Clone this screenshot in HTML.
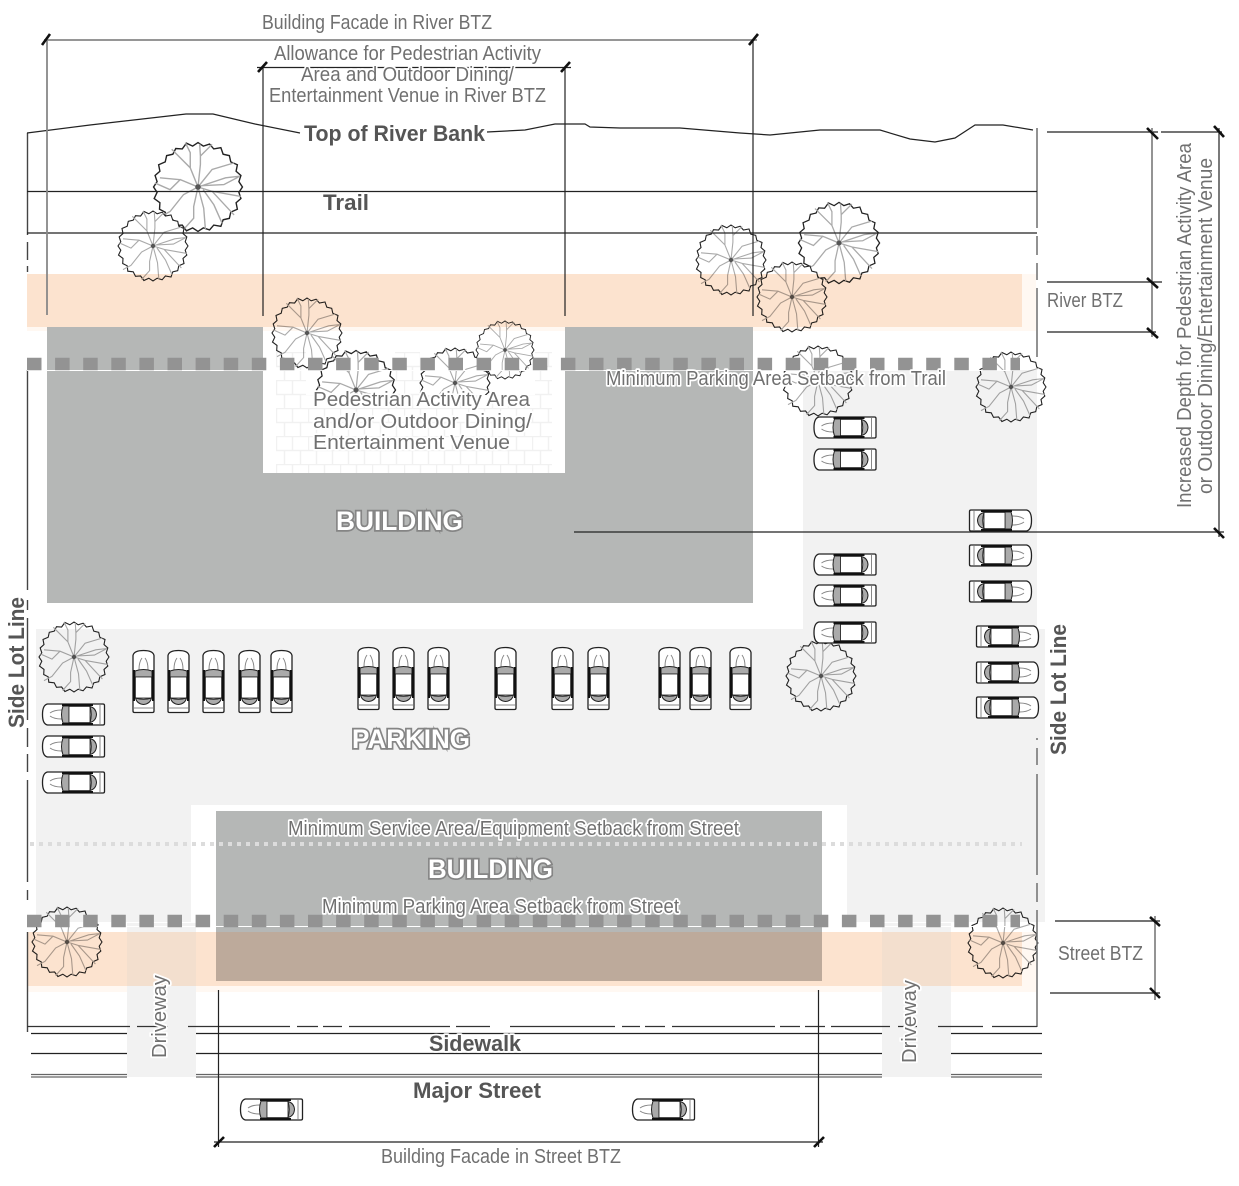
<!DOCTYPE html>
<html>
<head>
<meta charset="utf-8">
<title>River and Street BTZ Diagram</title>
<style>
html,body{margin:0;padding:0;background:#fff;}
svg{display:block;}
text{font-family:"Liberation Sans",sans-serif;}
.l{font-size:20px;fill:#707070;}
.h{paint-order:stroke;stroke:#fff;stroke-width:3.5px;stroke-linejoin:round;}
.b{font-size:22px;font-weight:bold;fill:#555;}
.big{font-size:27px;font-weight:bold;fill:#fff;stroke:#858585;stroke-width:3.5px;paint-order:stroke;stroke-linejoin:miter;stroke-miterlimit:10;}
.k{stroke:#222;stroke-width:1.2;fill:none;}
.g{stroke:#888;stroke-width:1.8;fill:none;}
.t{stroke:#111;stroke-width:2.6;fill:none;}
.m{mix-blend-mode:multiply;}
</style>
</head>
<body>
<svg xmlns="http://www.w3.org/2000/svg" width="1239" height="1186" viewBox="0 0 1239 1186">
<defs>
<g id="tree">
<polygon fill="#fff" stroke="#222" stroke-width="1.1" points="35,0 32.2,4.2 33.8,9.1 30,12.4 31,17.5 25.8,19.8 24.7,24.7 19.8,25.8 18,31 12.4,30 9.1,33.8 4.2,32.2 0,35 -4.2,32.2 -9.1,34.5 -12.4,30 -17.5,30.3 -19.8,25.8 -25.2,25.2 -25.8,19.8 -30.3,17.5 -30,12.4 -34.5,9.1 -32.2,4.2 -35,0 -32.2,-4.2 -33.8,-9.1 -30,-12.4 -31,-17.5 -25.8,-19.8 -24.7,-24.7 -19.8,-25.8 -17.5,-30.3 -12.4,-30 -9.1,-34.5 -4.2,-32.2 0,-35 4.2,-32.2 9.1,-33.8 12.4,-30 18,-31 19.8,-25.8 24.7,-24.7 25.8,-19.8 31,-17.5 30,-12.4 33.8,-9.1 32.2,-4.2"/>
<path d="M0,0 L1.9,-17.8 L1.9,-24.4 L11.1,-33.6 M1.9,-24.4 L1.3,-34 M0,0 L-6.1,-15.1 L-20.7,-29.7 M-6.1,-15.1 L-6.1,-27 L-10,-35 M0,0 L11.1,-13.8 L28.4,-19 M0,0 L21.7,-7.2 L33,-8.5 M3,-1 L20.4,-1.9 L32,-8 M0,0 L11.1,3.4 L28.4,22 M11.1,3.4 L33.7,7.4 M4,2 L12.5,14 L19,28.6 M0,0 L4.5,16.7 L5.8,33 M0,0 L-3.4,15.4 L-3.4,24.6 L-11.4,33.5 M0,0 L-11.4,6 L-22,19.3 L-30,23.6 M0,0 L-14,-5.8 L-22,2.1 L-34,-3.2 M-14,-5.8 L-30,-7.2" fill="none" stroke="#aaa" stroke-width="1.1"/>
<circle r="2.2" fill="#555"/>
</g>
<g id="car">
<path d="M5.5,1 H61 Q62.5,1 62.5,2.5 V20.5 Q62.5,22 61,22 H5.5 Q.5,21 .5,11.5 Q.5,2 5.5,1Z" fill="#fff" stroke="#222" stroke-width="1.3"/>
<path d="M21,3 H27 V20 H21 Q18,11.5 21,3Z" fill="#aaa" stroke="#222" stroke-width="1"/>
<rect x="27" y="3.5" width="21" height="16" fill="#fff" stroke="#222" stroke-width=".8"/>
<path d="M48,3.5 Q54,5 54.5,11.5 Q54,18 48,19.5 Q50.5,11.5 48,3.5Z" fill="#aaa" stroke="#222" stroke-width="1"/>
<path d="M20,2 H51 M20,21 H51" stroke="#111" stroke-width="2" fill="none"/>
<path d="M19.5,7 Q12,7 8,10 M19.5,16 Q12,16 8,13 M58,2 V21" fill="none" stroke="#888" stroke-width="1"/>
</g>
<pattern id="brick" width="32" height="28" patternUnits="userSpaceOnUse" x="276" y="352">
<rect width="32" height="28" fill="#fff"/>
<path d="M0,.5 H32 M0,14.5 H32 M.5,0 V14 M16.5,0 V14 M8.5,14 V28 M24.5,14 V28" stroke="#f1f1f1" stroke-width="1.4" fill="none"/>
</pattern>
</defs>

<rect width="1239" height="1186" fill="#fff"/>

<!-- trees under overlays -->
<use href="#tree" transform="translate(198,187) scale(1.27)"/>
<use href="#tree" transform="translate(153,246)"/>
<use href="#tree" transform="translate(307,333)"/>
<use href="#tree" transform="translate(356,390) scale(1.13)"/>
<use href="#tree" transform="translate(455,383)"/>
<use href="#tree" transform="translate(505,350) scale(.83)"/>
<use href="#tree" transform="translate(731,260)"/>
<use href="#tree" transform="translate(839,243) scale(1.16)"/>
<use href="#tree" transform="translate(792,297)"/>
<use href="#tree" transform="translate(818,381)"/>
<use href="#tree" transform="translate(1011,387)"/>
<use href="#tree" transform="translate(74,657)"/>
<use href="#tree" transform="translate(821,676)"/>
<use href="#tree" transform="translate(67,942)"/>
<use href="#tree" transform="translate(1003,943)"/>

<!-- paving cover -->
<rect x="276" y="395" width="276" height="78" fill="url(#brick)"/>
<rect x="276" y="352" width="30" height="43" fill="url(#brick)" class="m"/>
<rect x="395" y="352" width="25" height="43" fill="url(#brick)" class="m"/>
<rect x="535" y="352" width="17" height="43" fill="url(#brick)" class="m"/>

<!-- overlays -->
<rect x="1022" y="274" width="14" height="57" fill="#fff8f2" class="m"/>
<rect x="27" y="327" width="995" height="4" fill="#fff8f2" class="m"/>
<rect x="27" y="274" width="995" height="53" fill="#fce3cf" class="m"/>
<path d="M803,370 H1037 V629 H1045 V922 H847 V805 H191 V922 H36 V629 H803Z" fill="#f2f2f2" class="m"/>
<rect x="1022" y="932" width="14" height="60" fill="#fff8f2" class="m"/>
<rect x="27" y="986" width="995" height="6" fill="#fff8f2" class="m"/>
<rect x="27" y="932" width="995" height="54" fill="#fce3cf" class="m"/>
<path d="M47,327 H263 V473 H565 V327 H753 V603 H47Z" fill="#b5b7b6"/>
<rect x="216" y="811" width="606" height="121" fill="#b5b7b6"/>
<rect x="216" y="932" width="606" height="49" fill="#bdaa9b"/>

<!-- street lines -->
<path d="M31,1033.5 H127 M196,1033.5 H882 M951,1033.5 H1042 M31,1053.5 H127 M196,1053.5 H882 M951,1053.5 H1042" stroke="#222" stroke-width="1.2" fill="none"/>
<path d="M31,1074.5 H127 M196,1074.5 H882 M951,1074.5 H1042 M31,1077 H127 M196,1077 H882 M951,1077 H1042" stroke="#666" stroke-width="1.2" fill="none"/>

<!-- driveways -->
<rect x="127" y="923" width="69" height="154" fill="#f2f2f2"/>
<rect x="882" y="923" width="69" height="154" fill="#f2f2f2"/>
<rect x="127" y="932" width="69" height="54" fill="#f3dfce"/>
<rect x="882" y="932" width="69" height="54" fill="#f3dfce"/>

<!-- lot lines -->
<path d="M27.5,133 V235 M27.5,242 V260 M27.5,266 V272 M27.5,370 V590 M27.5,600 V610 M27.5,618 V720 M27.5,728 V747 M27.5,754 V772 M27.5,780 V882 M27.5,890 V900 M27.5,932 V1032" stroke="#444" stroke-width="1.4" fill="none"/>
<path d="M1037,128 V228 M1037,236 V255 M1037,263 V280 M1037,288 V357 M1037,738 V740 M1037,748 V765 M1037,774 V875 M1037,883 V902 M1037,910 V1027" stroke="#777" stroke-width="1.6" fill="none"/>
<path d="M27,1026.5 H130 M137,1026.5 H168 M188,1026.5 H290 M297,1026.5 H318 M323,1026.5 H342 M349,1026.5 H450 M456,1026.5 H490 M510,1026.5 H615 M622,1026.5 H640 M645,1026.5 H665 M672,1026.5 H775 M780,1026.5 H800 M805,1026.5 H825 M831,1026.5 H890 M898,1026.5 H917 M938,1026.5 H983 M992,1026.5 H1037" stroke="#333" stroke-width="1.2" fill="none"/>

<!-- river bank, trail -->
<path d="M27,133 L90,125 L186,114 L213,114 L255,124 L300,133 M487,132 L525,130 L555,124 L585,124 L590,127 L620,128 L680,128 L740,133 L770,135 L820,130 L880,130 L910,139 L935,142 L955,138 L975,125 L1003,125 L1033,130" class="k"/>
<path d="M27,191.5 H1037 M27,233 H1037" class="k"/>

<!-- dimensions -->
<path d="M47,40 V315 M44,40 H757" class="g"/>
<path d="M263,67 V316 M565,67 V316 M753,40 V316" class="k"/>
<path d="M257,67.5 H571" class="k" stroke-width="1.4"/>
<path d="M218.5,990 V1147 M818.5,990 V1147 M214,1142 H823" class="k"/>
<path d="M1047,132 H1158 M1047,282 H1162 M1047,332 H1156 M1161,132 H1222 M574,532 H1224" class="k"/>
<path d="M1152,128 V337 M1155,916 V1000" class="g"/>
<path d="M1219,128 V537" class="k"/>
<path d="M1055,921 H1160 M1050,993 H1160" class="k"/>
<path d="M42,45 L50,34 M258,72 L267,62 M561,72 L570,62 M749,45 L758,34 M214,1147 L224,1137 M814,1147 L824,1137" class="t"/>
<path d="M1147,128 L1158,139 M1147,278 L1158,288 M1147,328 L1158,338 M1214,126 L1224,137 M1214,528 L1224,538 M1150,917 L1160,926 M1150,988 L1160,998" class="t"/>

<!-- setback lines -->
<line x1="30" y1="844" x2="1022" y2="844" stroke="#dcdcdc" stroke-width="4" stroke-dasharray="4 5"/>
<line x1="27" y1="370.5" x2="1020" y2="370.5" stroke="#fff" stroke-width="1"/>
<line x1="27" y1="926.5" x2="1020" y2="926.5" stroke="#fff" stroke-width="1"/>
<line x1="27" y1="364" x2="1020" y2="364" stroke="#939393" stroke-width="12.5" stroke-dasharray="14.5 13.6"/>
<line x1="27" y1="921" x2="1020" y2="921" stroke="#939393" stroke-width="12.5" stroke-dasharray="14.5 13.6"/>

<!-- cars horizontal -->
<use href="#car" transform="translate(42,703)"/>
<use href="#car" transform="translate(42,735)"/>
<use href="#car" transform="translate(42,771)"/>
<use href="#car" transform="translate(813.5,416)"/>
<use href="#car" transform="translate(813.5,448)"/>
<use href="#car" transform="translate(813.5,553)"/>
<use href="#car" transform="translate(813.5,584)"/>
<use href="#car" transform="translate(813.5,621)"/>
<use href="#car" transform="translate(1032,509) scale(-1,1)"/>
<use href="#car" transform="translate(1032,544) scale(-1,1)"/>
<use href="#car" transform="translate(1032,580) scale(-1,1)"/>
<use href="#car" transform="translate(1039,625) scale(-1,1)"/>
<use href="#car" transform="translate(1039,661) scale(-1,1)"/>
<use href="#car" transform="translate(1039,696) scale(-1,1)"/>
<use href="#car" transform="translate(240,1098)"/>
<use href="#car" transform="translate(632,1098)"/>
<!-- cars vertical -->
<use href="#car" transform="translate(155,650) rotate(90)"/>
<use href="#car" transform="translate(190,650) rotate(90)"/>
<use href="#car" transform="translate(225,650) rotate(90)"/>
<use href="#car" transform="translate(261,650) rotate(90)"/>
<use href="#car" transform="translate(293,650) rotate(90)"/>
<use href="#car" transform="translate(380,647) rotate(90)"/>
<use href="#car" transform="translate(415,647) rotate(90)"/>
<use href="#car" transform="translate(450,647) rotate(90)"/>
<use href="#car" transform="translate(517,647) rotate(90)"/>
<use href="#car" transform="translate(574,647) rotate(90)"/>
<use href="#car" transform="translate(610,647) rotate(90)"/>
<use href="#car" transform="translate(681,647) rotate(90)"/>
<use href="#car" transform="translate(712,647) rotate(90)"/>
<use href="#car" transform="translate(752,647) rotate(90)"/>

<!-- labels -->
<text class="l h" x="262" y="29" textLength="230" lengthAdjust="spacingAndGlyphs">Building Facade in River BTZ</text>
<text class="l h" x="274" y="60" textLength="267" lengthAdjust="spacingAndGlyphs">Allowance for Pedestrian Activity</text>
<text class="l h" x="301" y="81" textLength="213" lengthAdjust="spacingAndGlyphs">Area and Outdoor Dining/</text>
<text class="l h" x="269" y="102" textLength="277" lengthAdjust="spacingAndGlyphs">Entertainment Venue in River BTZ</text>
<text class="b h" x="304" y="141" textLength="181" lengthAdjust="spacingAndGlyphs">Top of River Bank</text>
<text class="b h" x="323" y="210" textLength="46" lengthAdjust="spacingAndGlyphs">Trail</text>
<text class="l" x="1047" y="307" textLength="76" lengthAdjust="spacingAndGlyphs">River BTZ</text>
<text class="l h" x="606" y="385" textLength="340" lengthAdjust="spacingAndGlyphs">Minimum Parking Area Setback from Trail</text>
<text class="l h" x="313" y="406" textLength="217" lengthAdjust="spacingAndGlyphs">Pedestrian Activity Area</text>
<text class="l h" x="313" y="428" textLength="219" lengthAdjust="spacingAndGlyphs">and/or Outdoor Dining/</text>
<text class="l h" x="313" y="449" textLength="197" lengthAdjust="spacingAndGlyphs">Entertainment Venue</text>
<text class="big" x="336" y="530" textLength="127" lengthAdjust="spacingAndGlyphs">BUILDING</text>
<text class="big" x="352" y="748" textLength="118" lengthAdjust="spacingAndGlyphs">PARKING</text>
<text class="big" x="428" y="878" textLength="125" lengthAdjust="spacingAndGlyphs">BUILDING</text>
<text class="l h" x="288" y="835" textLength="451" lengthAdjust="spacingAndGlyphs">Minimum Service Area/Equipment Setback from Street</text>
<text class="l h" x="322" y="913" textLength="357" lengthAdjust="spacingAndGlyphs">Minimum Parking Area Setback from Street</text>
<text class="b h" x="429" y="1051" textLength="92" lengthAdjust="spacingAndGlyphs">Sidewalk</text>
<text class="b h" x="413" y="1098" textLength="128" lengthAdjust="spacingAndGlyphs">Major Street</text>
<text class="l h" x="381" y="1163" textLength="240" lengthAdjust="spacingAndGlyphs">Building Facade in Street BTZ</text>
<text class="l" x="1058" y="960" textLength="85" lengthAdjust="spacingAndGlyphs">Street BTZ</text>
<text class="l h" transform="translate(1191,508) rotate(-90)" textLength="365" lengthAdjust="spacingAndGlyphs">Increased Depth for Pedestrian Activity Area</text>
<text class="l h" transform="translate(1212,494) rotate(-90)" textLength="336" lengthAdjust="spacingAndGlyphs">or Outdoor Dining/Entertainment Venue</text>
<text class="b h" transform="translate(24,728) rotate(-90)" textLength="131" lengthAdjust="spacingAndGlyphs">Side Lot Line</text>
<text class="b h" transform="translate(1066,755) rotate(-90)" textLength="131" lengthAdjust="spacingAndGlyphs">Side Lot Line</text>
<text class="l h" transform="translate(166,1058) rotate(-90)" textLength="83" lengthAdjust="spacingAndGlyphs">Driveway</text>
<text class="l h" transform="translate(916,1063) rotate(-90)" textLength="83" lengthAdjust="spacingAndGlyphs">Driveway</text>
</svg>
</body>
</html>
